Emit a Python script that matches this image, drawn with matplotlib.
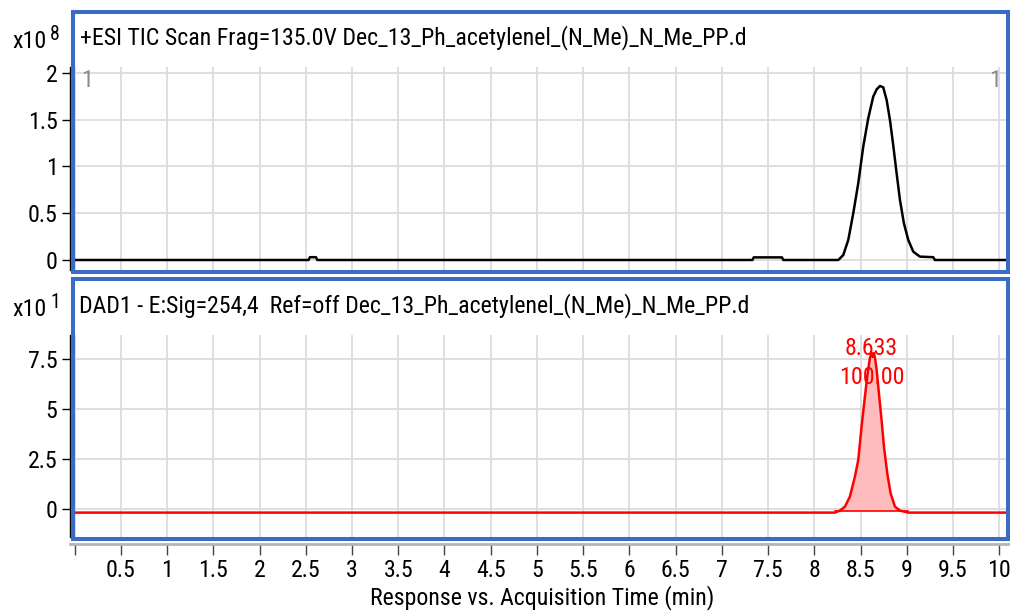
import matplotlib
matplotlib.use("Agg")
import matplotlib.pyplot as plt
from matplotlib.patches import Rectangle

plt.rcParams['font.family'] = ['Roboto Condensed', 'Liberation Sans', 'DejaVu Sans']

# TIC trace (values in x10^8 counts)
tic_time = [0.0, 2.53, 2.545, 2.61, 2.625, 7.33, 7.345, 7.65, 7.665,
            8.259, 8.313, 8.367, 8.421, 8.475, 8.529, 8.583, 8.637, 8.674, 8.710,
            8.745, 8.782, 8.818, 8.853, 8.890, 8.926, 8.969, 9.016, 9.070, 9.142,
            9.286, 9.304, 10.1]
tic_value = [0.0, 0.0, 0.03, 0.03, 0.0, 0.0, 0.028, 0.028, 0.0,
             0.0, 0.053, 0.214, 0.499, 0.820, 1.212, 1.515, 1.747, 1.825, 1.861,
             1.847, 1.711, 1.497, 1.230, 0.927, 0.642, 0.392, 0.214, 0.089, 0.036,
             0.03, 0.0, 0.0]

# DAD trace (values in x10^1 mAU)
dad_time = [0.0, 8.223, 8.277, 8.331, 8.385, 8.439, 8.475, 8.511, 8.547, 8.572,
            8.601, 8.620, 8.633, 8.645, 8.658, 8.674, 8.702, 8.727, 8.753, 8.789,
            8.825, 8.872, 8.926, 9.016, 10.1]
dad_value = [-0.18, -0.18, -0.08, 0.12, 0.62, 1.62, 2.45, 4.12, 5.62, 6.62,
             7.55, 7.8, 7.6, 7.8, 7.5, 6.95, 5.62, 4.45, 3.12, 1.78,
             0.78, 0.12, -0.08, -0.18, -0.18]
peak_rt = "8.633"
peak_area = "100.00"

tic_title = "+ESI TIC Scan Frag=135.0V Dec_13_Ph_acetylenel_(N_Me)_N_Me_PP.d"
dad_title = "DAD1 - E:Sig=254,4  Ref=off Dec_13_Ph_acetylenel_(N_Me)_N_Me_PP.d"
xlabel = "Response vs. Acquisition Time (min)"

xticks = [i * 0.5 for i in range(21)]
xticklabels = [''] + ['%g' % t for t in xticks[1:]]
tic_yticks = [0, 0.5, 1, 1.5, 2]
dad_yticks = [0, 2.5, 5, 7.5]

W, H = 1011, 612
FS = 17.2
blue = '#3a6cc6'
grid = '#dcdcdc'

def fx(px): # pixel -> figure x
    return px / W

def fy(py): # pixel (from top) -> figure y
    return 1 - py / H

fig = plt.figure(figsize=(W / 100, H / 100), dpi=100)
ax1 = fig.add_axes([fx(70), fy(270), fx(1008.5) - fx(70), fy(67) - fy(270)])
ax2 = fig.add_axes([fx(70), fy(537), fx(1008.5) - fx(70), fy(335) - fy(537)])

for ax in (ax1, ax2):
    ax.set_xlim(-0.05, 10.1)
    ax.set_xticks(xticks)
    ax.grid(True, color=grid, lw=1.3)
    ax.set_axisbelow(True)
    for s in ('top', 'right'):
        ax.spines[s].set_visible(False)
    ax.spines['left'].set_linewidth(1.0)
    ax.tick_params(axis='y', direction='out', length=6, width=1, labelsize=FS, pad=3)

# top: TIC
ax1.plot(tic_time, tic_value, color='black', lw=1.8)
ax1.set_ylim(-0.107, 2.064)
ax1.set_yticks(tic_yticks)
ax1.set_yticklabels(['%g' % v for v in tic_yticks])
ax1.spines['bottom'].set_visible(False)
ax1.tick_params(axis='x', length=0, labelbottom=False)
ax1.text(0.012, 0.935, '1', transform=ax1.transAxes, color='#8a8a8a', fontsize=FS, va='center', ha='left')
ax1.text(0.992, 0.935, '1', transform=ax1.transAxes, color='#8a8a8a', fontsize=FS, va='center', ha='right')

# bottom: DAD
ax2.fill_between(dad_time[1:-1], dad_value[1:-1], -0.08, color='#ffbcbc', lw=0)
ax2.plot([dad_time[1], dad_time[-2]], [-0.08, -0.08], color='red', lw=1.2)
ax2.plot(dad_time, dad_value, color='red', lw=1.8)
ax2.set_ylim(-1.4, 8.7)
ax2.set_yticks(dad_yticks)
ax2.set_yticklabels(['%g' % v for v in dad_yticks])
ax2.text(8.62, 8.05, peak_rt, color='red', fontsize=FS, ha='center', va='center')
ax2.text(8.62, 6.6, peak_area, color='red', fontsize=FS, ha='center', va='center')
ax2.spines['bottom'].set_position(('outward', 5))
ax2.spines['bottom'].set_color('#b4b4b4')
ax2.spines['bottom'].set_linewidth(2)
ax2.tick_params(axis='x', direction='out', length=8, width=1, color='#444444', labelsize=FS, pad=3)
ax2.set_xticklabels(xticklabels)

# blue panel frames
fig.add_artist(Rectangle((fx(73), fy(271.5)), fx(1007.5) - fx(73), fy(11.5) - fy(271.5),
                         transform=fig.transFigure, fill=False, ec=blue, lw=2.9, zorder=5))
fig.add_artist(Rectangle((fx(73), fy(538.5)), fx(1007.5) - fx(73), fy(279) - fy(538.5),
                         transform=fig.transFigure, fill=False, ec=blue, lw=2.9, zorder=5))

# panel titles, scale labels, x label
fig.text(fx(80), fy(38), tic_title, fontsize=FS, va='center', ha='left')
fig.text(fx(79), fy(306), dad_title, fontsize=FS, va='center', ha='left')
fig.text(fx(12), fy(42), 'x10', fontsize=FS, va='center', ha='left')
fig.text(fx(50), fy(34), '8', fontsize=FS - 3, va='center', ha='left')
fig.text(fx(12), fy(310), 'x10', fontsize=FS, va='center', ha='left')
fig.text(fx(50), fy(302), '1', fontsize=FS - 3, va='center', ha='left')
fig.text(fx(542), fy(598), xlabel, fontsize=FS, va='center', ha='center')

fig.savefig('out.png', dpi=100)
